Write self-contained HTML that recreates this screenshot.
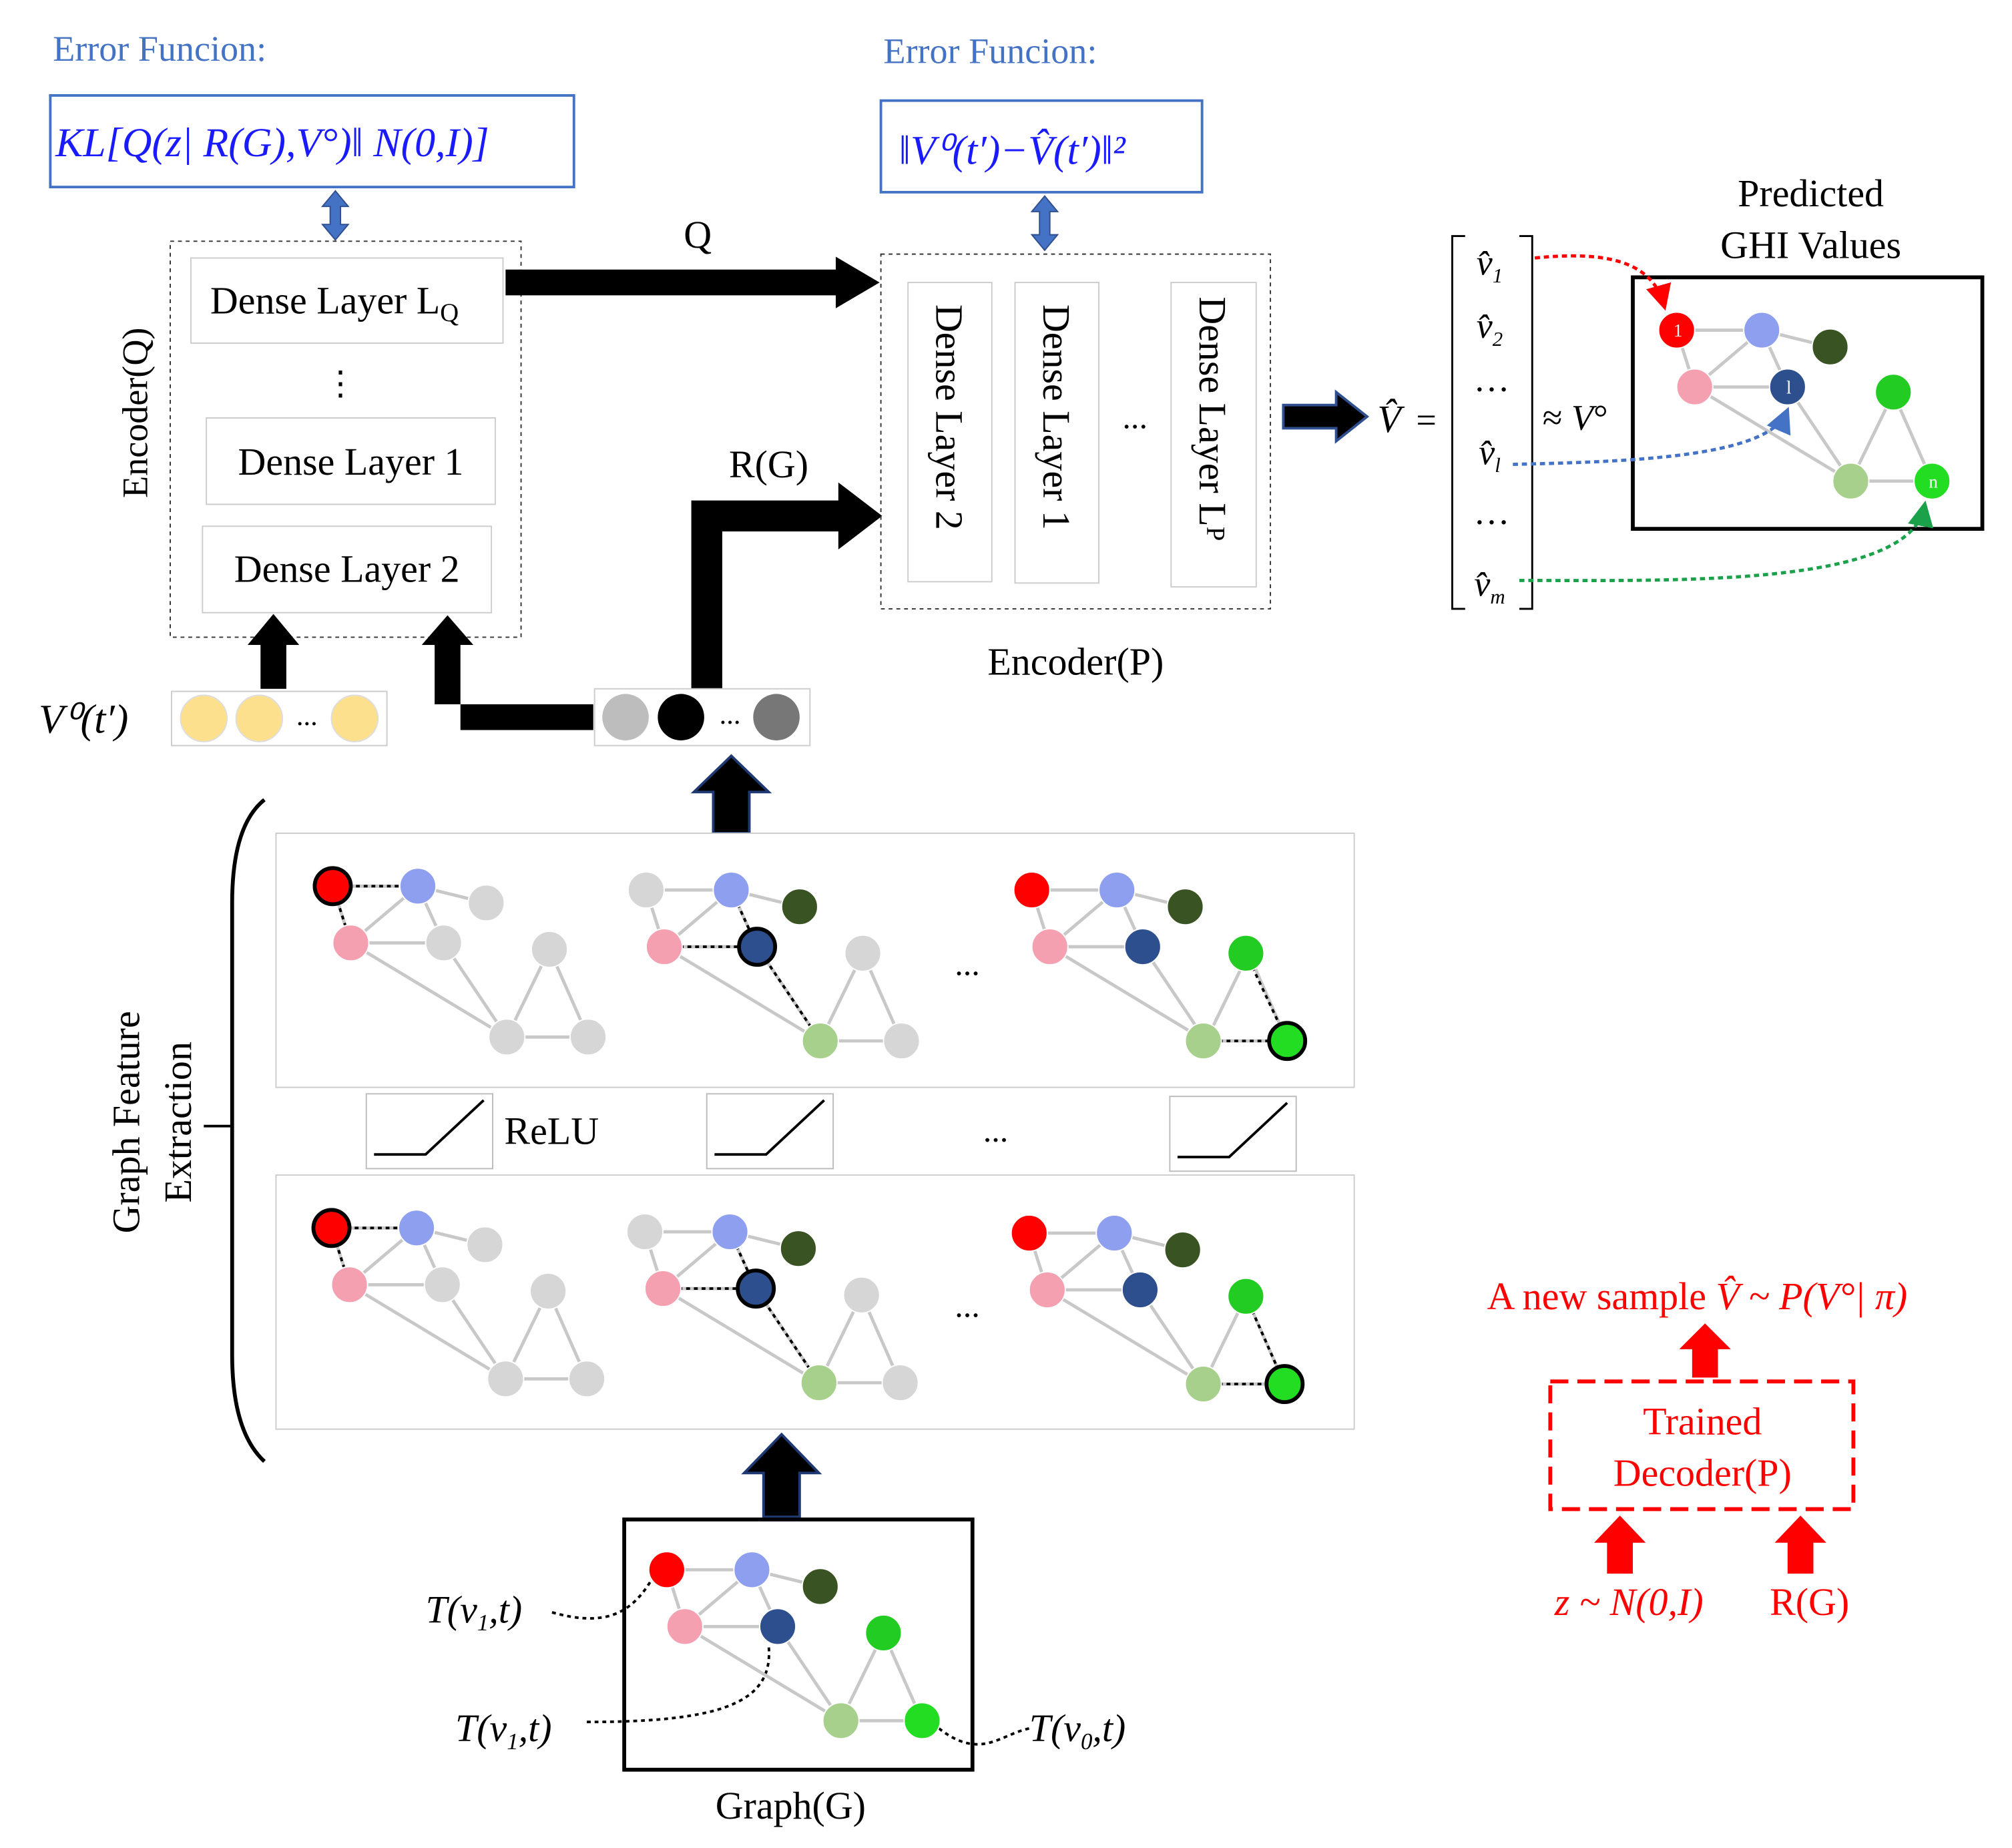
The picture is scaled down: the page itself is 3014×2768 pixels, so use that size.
<!DOCTYPE html>
<html><head><meta charset="utf-8"><style>
html,body{margin:0;padding:0;background:#fff;}
svg{display:block;}
text{font-family:"Liberation Serif",serif;}
</style></head><body>
<svg width="3014" height="2768" viewBox="0 0 1560 1432.7" preserveAspectRatio="none" xmlns="http://www.w3.org/2000/svg">
<defs>
<marker id="ar" markerWidth="8" markerHeight="8" refX="6" refY="4" orient="auto"><path d="M0,0 L8,4 L0,8 z" fill="#ff0000"/></marker>
<marker id="ab" markerWidth="8" markerHeight="8" refX="6" refY="4" orient="auto"><path d="M0,0 L8,4 L0,8 z" fill="#4472c4"/></marker>
<marker id="ag" markerWidth="8" markerHeight="8" refX="6" refY="4" orient="auto"><path d="M0,0 L8,4 L0,8 z" fill="#1aa14a"/></marker>
<path id="e1" d="M0,0 L66,0 M0,0 L14,44 M66,0 L14,44 M66,0 L119,13 M66,0 L86,44 M14,44 L86,44 M14,44 L135,117 M86,44 L135,117 M135,117 L168,49 M168,49 L198,117 M135,117 L198,117"/>
</defs>
<rect width="1560" height="1433" fill="#fff"/>

<!-- Error function left -->
<text x="41" y="47" font-size="28" fill="#4472c4">Error Funcion:</text>
<rect x="39" y="74" width="406" height="71" fill="none" stroke="#4472c4" stroke-width="2"/>
<text x="43" y="121" font-size="32" fill="#1a1aff" font-style="italic">KL[Q(z| R(G),V°)‖ N(0,I)]</text>
<path d="M260,148 L250,160 L256,160 L256,174 L250,174 L260,186 L270,174 L264,174 L264,160 L270,160 Z" fill="#4472c4" stroke="#2f4f8f"/>

<!-- Error function right -->
<text x="685" y="49" font-size="28" fill="#4472c4">Error Funcion:</text>
<rect x="683" y="78" width="249" height="71" fill="none" stroke="#4472c4" stroke-width="2"/>
<text x="697" y="127" font-size="32" fill="#1a1aff" font-style="italic">‖V⁰(t′)−V̂(t′)‖²</text>
<path d="M810,152 L800,164 L806,164 L806,182 L800,182 L810,194 L820,182 L814,182 L814,164 L820,164 Z" fill="#4472c4" stroke="#2f4f8f"/>

<!-- Encoder Q -->
<rect x="132" y="187" width="272" height="307" fill="none" stroke="#333" stroke-dasharray="3,3"/>
<text transform="translate(114,320) rotate(-90)" font-size="28" text-anchor="middle">Encoder(Q)</text>
<rect x="148" y="200" width="242" height="66" fill="#fff" stroke="#ccc"/>
<text x="163" y="243" font-size="30">Dense Layer L<tspan font-size="20" dy="6">Q</tspan></text>
<text x="264" y="306" font-size="26" text-anchor="middle">⋮</text>
<rect x="160" y="324" width="224" height="67" fill="#fff" stroke="#ccc"/>
<text x="272" y="368" font-size="30" text-anchor="middle">Dense Layer 1</text>
<rect x="157" y="408" width="224" height="67" fill="#fff" stroke="#ccc"/>
<text x="269" y="451" font-size="30" text-anchor="middle">Dense Layer 2</text>

<!-- Q arrow -->
<path d="M392,209 L648,209 L648,199 L682,219 L648,239 L648,229 L392,229 Z" fill="#000"/>
<text x="541" y="192" font-size="30" text-anchor="middle">Q</text>
<!-- R(G) arrow -->
<path d="M536,534 L536,388 L650,388 L650,374 L684,400 L650,426 L650,412 L560,412 L560,534 Z" fill="#000"/>
<text x="596" y="370" font-size="30" text-anchor="middle">R(G)</text>

<!-- Encoder P -->
<rect x="683" y="197" width="302" height="275" fill="none" stroke="#333" stroke-dasharray="3,3"/>
<rect x="704" y="219" width="65" height="232" fill="#fff" stroke="#ccc"/>
<rect x="787" y="219" width="65" height="233" fill="#fff" stroke="#ccc"/>
<rect x="908" y="219" width="66" height="236" fill="#fff" stroke="#ccc"/>
<text transform="translate(726,236) rotate(90)" font-size="30">Dense Layer 2</text>
<text transform="translate(809,236) rotate(90)" font-size="30">Dense Layer 1</text>
<text transform="translate(930,230) rotate(90)" font-size="30">Dense Layer L<tspan font-size="20" dy="-6">P</tspan></text>
<text x="880" y="332" font-size="26" text-anchor="middle">...</text>
<text x="834" y="523" font-size="30" text-anchor="middle">Encoder(P)</text>

<!-- output arrow -->
<path d="M995,314 L1036,314 L1036,304 L1060,323 L1036,342 L1036,332 L995,332 Z" fill="#000" stroke="#2f4f8f" stroke-width="2"/>
<text x="1068" y="335" font-size="30" font-style="italic">V̂</text>
<text x="1098" y="335" font-size="28">=</text>
<path d="M1136,183 L1126,183 L1126,472 L1136,472 M1178,183 L1188,183 L1188,472 L1178,472" fill="none" stroke="#000" stroke-width="1.5"/>
<g font-size="28" font-style="italic" text-anchor="middle">
<text x="1155" y="213">v̂<tspan font-size="16" dy="6">1</tspan></text>
<text x="1155" y="262">v̂<tspan font-size="16" dy="6">2</tspan></text>
<text x="1157" y="303">…</text>
<text x="1155" y="360">v̂<tspan font-size="16" dy="6">l</tspan></text>
<text x="1157" y="406">…</text>
<text x="1155" y="462">v̂<tspan font-size="16" dy="6">m</tspan></text>
</g>
<text x="1196" y="333" font-size="28">≈ <tspan font-style="italic">V</tspan>°</text>
<text x="1404" y="160" font-size="30" text-anchor="middle">Predicted</text>
<text x="1404" y="200" font-size="30" text-anchor="middle">GHI Values</text>
<rect x="1266" y="215" width="271" height="195" fill="none" stroke="#000" stroke-width="3"/>

<!-- vector boxes -->
<rect x="133" y="536" width="167" height="42" fill="#fff" stroke="#ccc"/>
<circle cx="158" cy="557" r="18" fill="#fde08e" stroke="#ddd"/>
<circle cx="201" cy="557" r="18" fill="#fde08e" stroke="#ddd"/>
<text x="238" y="562" font-size="22" text-anchor="middle">...</text>
<circle cx="275" cy="557" r="18" fill="#fde08e" stroke="#ddd"/>
<text x="30" y="568" font-size="32" font-style="italic">V⁰(t′)</text>
<rect x="461" y="534" width="167" height="44" fill="#fff" stroke="#ccc"/>
<circle cx="485" cy="556" r="18" fill="#bdbdbd"/>
<circle cx="528" cy="556" r="18" fill="#000"/>
<text x="566" y="561" font-size="22" text-anchor="middle">...</text>
<circle cx="602" cy="556" r="18" fill="#777"/>

<!-- up arrows into encoder Q -->
<path d="M202,534 L202,500 L192,500 L212,476 L232,500 L222,500 L222,534 Z" fill="#000"/>
<path d="M460,546 L337,546 L337,500 L327,500 L347,477 L367,500 L357,500 L357,566 L460,566 Z" fill="#000"/>
<!-- up arrow feature to vector -->
<path d="M553,646 L553,614 L538,614 L567,586 L596,614 L581,614 L581,646 Z" fill="#000" stroke="#1f3a73" stroke-width="2"/>
<path d="M592,1176 L592,1142 L577,1142 L606,1112 L635,1142 L620,1142 L620,1176 Z" fill="#000" stroke="#1f3a73" stroke-width="2"/>

<!-- brace -->
<path d="M205,620 Q180,640 180,700 L180,1050 Q180,1110 205,1133" fill="none" stroke="#000" stroke-width="3"/>
<line x1="158" y1="873" x2="180" y2="873" stroke="#000" stroke-width="2"/>
<text transform="translate(108,870) rotate(-90)" font-size="30" text-anchor="middle">Graph Feature</text>
<text transform="translate(148,870) rotate(-90)" font-size="30" text-anchor="middle">Extraction</text>

<!-- panels -->
<rect x="214" y="646" width="836" height="197" fill="#fff" stroke="#ccc"/>
<rect x="214" y="911" width="836" height="197" fill="#fff" stroke="#ccc"/>
<text x="750" y="756" font-size="26" text-anchor="middle">...</text>
<text x="750" y="1021" font-size="26" text-anchor="middle">...</text>
<rect x="284" y="848" width="98" height="58" fill="#fff" stroke="#bbb"/>
<rect x="548" y="848" width="98" height="58" fill="#fff" stroke="#bbb"/>
<rect x="907" y="850" width="98" height="58" fill="#fff" stroke="#bbb"/>
<path d="M290,895 L330,895 L375,853" fill="none" stroke="#000" stroke-width="2"/>
<path d="M554,895 L594,895 L639,853" fill="none" stroke="#000" stroke-width="2"/>
<path d="M913,897 L953,897 L998,855" fill="none" stroke="#000" stroke-width="2"/>
<text x="391" y="887" font-size="30">ReLU</text>
<text x="772" y="885" font-size="26" text-anchor="middle">...</text>

<!-- Graph(G) box -->
<rect x="484" y="1178" width="270" height="194" fill="none" stroke="#000" stroke-width="3"/>
<text x="613" y="1410" font-size="30" text-anchor="middle">Graph(G)</text>

<!-- T labels -->
<text x="330" y="1258" font-size="30" font-style="italic">T(v<tspan font-size="18" dy="6">1</tspan><tspan dy="-6">,t)</tspan></text>
<text x="353" y="1350" font-size="30" font-style="italic">T(v<tspan font-size="18" dy="6">1</tspan><tspan dy="-6">,t)</tspan></text>
<text x="798" y="1350" font-size="30" font-style="italic">T(v<tspan font-size="18" dy="6">0</tspan><tspan dy="-6">,t)</tspan></text>
<path d="M428,1250 C470,1262 490,1250 505,1225" fill="none" stroke="#000" stroke-width="2" stroke-dasharray="3,3"/>
<path d="M455,1335 C560,1335 600,1320 596,1276" fill="none" stroke="#000" stroke-width="2" stroke-dasharray="3,3"/>
<path d="M728,1340 C760,1365 775,1345 798,1340" fill="none" stroke="#000" stroke-width="2" stroke-dasharray="3,3"/>

<!-- red section -->
<text x="1153" y="1015" font-size="30" fill="#ff0000">A new sample <tspan font-style="italic">V̂ ~ P(V°| π)</tspan></text>
<path d="M1312,1068 L1312,1046 L1302,1046 L1322,1026 L1342,1046 L1332,1046 L1332,1068 Z" fill="#ff0000"/>
<rect x="1202" y="1071" width="235" height="99" fill="none" stroke="#ff0000" stroke-width="3" stroke-dasharray="14,7"/>
<text x="1320" y="1112" font-size="30" fill="#ff0000" text-anchor="middle">Trained</text>
<text x="1320" y="1152" font-size="30" fill="#ff0000" text-anchor="middle">Decoder(P)</text>
<path d="M1246,1220 L1246,1196 L1236,1196 L1256,1175 L1276,1196 L1266,1196 L1266,1220 Z" fill="#ff0000"/>
<path d="M1386,1220 L1386,1196 L1376,1196 L1396,1175 L1416,1196 L1406,1196 L1406,1220 Z" fill="#ff0000"/>
<text x="1263" y="1252" font-size="30" fill="#ff0000" font-style="italic" text-anchor="middle">z ~ N(0,I)</text>
<text x="1403" y="1252" font-size="30" fill="#ff0000" text-anchor="middle">R(G)</text>

<g stroke="#c8c8c8" stroke-width="2.5" fill="none">
<use href="#e1" x="258" y="687"/>
<use href="#e1" x="501" y="690"/>
<use href="#e1" x="800" y="690"/>
<use href="#e1" x="257" y="952"/>
<use href="#e1" x="500" y="955"/>
<use href="#e1" x="798" y="956"/>
<use href="#e1" x="517" y="1217"/>
<use href="#e1" x="1300" y="256"/>
</g>

<!-- Dotted highlight edges -->
<g stroke="#000" stroke-width="2" stroke-dasharray="3,3" fill="none">
<path d="M258,687 L324,687 M258,687 L272,731"/>
<path d="M515,734 L587,734 M587,734 L636,807 M567,690 L587,734"/>
<path d="M966,739 L998,807 M933,807 L998,807"/>
<path d="M257,952 L323,952 M257,952 L271,996"/>
<path d="M514,999 L586,999 M586,999 L635,1072 M566,955 L586,999"/>
<path d="M966,1005 L996,1073 M933,1073 L996,1073"/>
</g>

<!-- Nodes -->
<g stroke="#fff" stroke-width="1">
<circle cx="258" cy="687" r="14" fill="#ff0000" stroke="#000" stroke-width="3"/>
<circle cx="324" cy="687" r="14" fill="#8f9ff0"/>
<circle cx="377" cy="700" r="14" fill="#d6d6d6"/>
<circle cx="272" cy="731" r="14" fill="#f4a0b0"/>
<circle cx="344" cy="731" r="14" fill="#d6d6d6"/>
<circle cx="426" cy="736" r="14" fill="#d6d6d6"/>
<circle cx="393" cy="804" r="14" fill="#d6d6d6"/>
<circle cx="456" cy="804" r="14" fill="#d6d6d6"/>
<circle cx="501" cy="690" r="14" fill="#d6d6d6"/>
<circle cx="567" cy="690" r="14" fill="#8f9ff0"/>
<circle cx="620" cy="703" r="14" fill="#3a5322"/>
<circle cx="515" cy="734" r="14" fill="#f4a0b0"/>
<circle cx="587" cy="734" r="14" fill="#2e4f8e" stroke="#000" stroke-width="3"/>
<circle cx="669" cy="739" r="14" fill="#d6d6d6"/>
<circle cx="636" cy="807" r="14" fill="#a8d08d"/>
<circle cx="699" cy="807" r="14" fill="#d6d6d6"/>
<circle cx="800" cy="690" r="14" fill="#ff0000"/>
<circle cx="866" cy="690" r="14" fill="#8f9ff0"/>
<circle cx="919" cy="703" r="14" fill="#3a5322"/>
<circle cx="814" cy="734" r="14" fill="#f4a0b0"/>
<circle cx="886" cy="734" r="14" fill="#2e4f8e"/>
<circle cx="966" cy="739" r="14" fill="#22cc22"/>
<circle cx="933" cy="807" r="14" fill="#a8d08d"/>
<circle cx="998" cy="807" r="14" fill="#22dd22" stroke="#000" stroke-width="3"/>
<circle cx="257" cy="952" r="14" fill="#ff0000" stroke="#000" stroke-width="3"/>
<circle cx="323" cy="952" r="14" fill="#8f9ff0"/>
<circle cx="376" cy="965" r="14" fill="#d6d6d6"/>
<circle cx="271" cy="996" r="14" fill="#f4a0b0"/>
<circle cx="343" cy="996" r="14" fill="#d6d6d6"/>
<circle cx="425" cy="1001" r="14" fill="#d6d6d6"/>
<circle cx="392" cy="1069" r="14" fill="#d6d6d6"/>
<circle cx="455" cy="1069" r="14" fill="#d6d6d6"/>
<circle cx="500" cy="955" r="14" fill="#d6d6d6"/>
<circle cx="566" cy="955" r="14" fill="#8f9ff0"/>
<circle cx="619" cy="968" r="14" fill="#3a5322"/>
<circle cx="514" cy="999" r="14" fill="#f4a0b0"/>
<circle cx="586" cy="999" r="14" fill="#2e4f8e" stroke="#000" stroke-width="3"/>
<circle cx="668" cy="1004" r="14" fill="#d6d6d6"/>
<circle cx="635" cy="1072" r="14" fill="#a8d08d"/>
<circle cx="698" cy="1072" r="14" fill="#d6d6d6"/>
<circle cx="798" cy="956" r="14" fill="#ff0000"/>
<circle cx="864" cy="956" r="14" fill="#8f9ff0"/>
<circle cx="917" cy="969" r="14" fill="#3a5322"/>
<circle cx="812" cy="1000" r="14" fill="#f4a0b0"/>
<circle cx="884" cy="1000" r="14" fill="#2e4f8e"/>
<circle cx="966" cy="1005" r="14" fill="#22cc22"/>
<circle cx="933" cy="1073" r="14" fill="#a8d08d"/>
<circle cx="996" cy="1073" r="14" fill="#22dd22" stroke="#000" stroke-width="3"/>
<circle cx="517" cy="1217" r="14" fill="#ff0000"/>
<circle cx="583" cy="1217" r="14" fill="#8f9ff0"/>
<circle cx="636" cy="1230" r="14" fill="#3a5322"/>
<circle cx="531" cy="1261" r="14" fill="#f4a0b0"/>
<circle cx="603" cy="1261" r="14" fill="#2e4f8e"/>
<circle cx="685" cy="1266" r="14" fill="#22cc22"/>
<circle cx="652" cy="1334" r="14" fill="#a8d08d"/>
<circle cx="715" cy="1334" r="14" fill="#22dd22"/>
<circle cx="1300" cy="256" r="14" fill="#ff0000"/>
<circle cx="1366" cy="256" r="14" fill="#8f9ff0"/>
<circle cx="1419" cy="269" r="14" fill="#3a5322"/>
<circle cx="1314" cy="300" r="14" fill="#f4a0b0"/>
<circle cx="1386" cy="300" r="14" fill="#2e4f8e"/>
<circle cx="1468" cy="304" r="14" fill="#22cc22"/>
<circle cx="1435" cy="373" r="14" fill="#a8d08d"/>
<circle cx="1498" cy="373" r="14" fill="#22dd22"/>
</g>
<g font-family="Liberation Sans" font-size="14" fill="#fff" text-anchor="middle" stroke="none">
<text x="1301" y="261" font-family="Liberation Sans">1</text>
<text x="1387" y="305" font-family="Liberation Sans">l</text>
<text x="1499" y="378" font-family="Liberation Sans">n</text>
</g>

<path d="M1190,200 C1240,195 1280,200 1290,236" fill="none" stroke="#ff0000" stroke-width="2.5" stroke-dasharray="4,3" marker-end="url(#ar)"/>
<path d="M1173,360 C1260,358 1370,355 1385,320" fill="none" stroke="#4472c4" stroke-width="2.5" stroke-dasharray="4,3" marker-end="url(#ab)"/>
<path d="M1178,450 C1300,450 1480,455 1492,393" fill="none" stroke="#1aa14a" stroke-width="2.5" stroke-dasharray="4,3" marker-end="url(#ag)"/>
</svg>
</body></html>
